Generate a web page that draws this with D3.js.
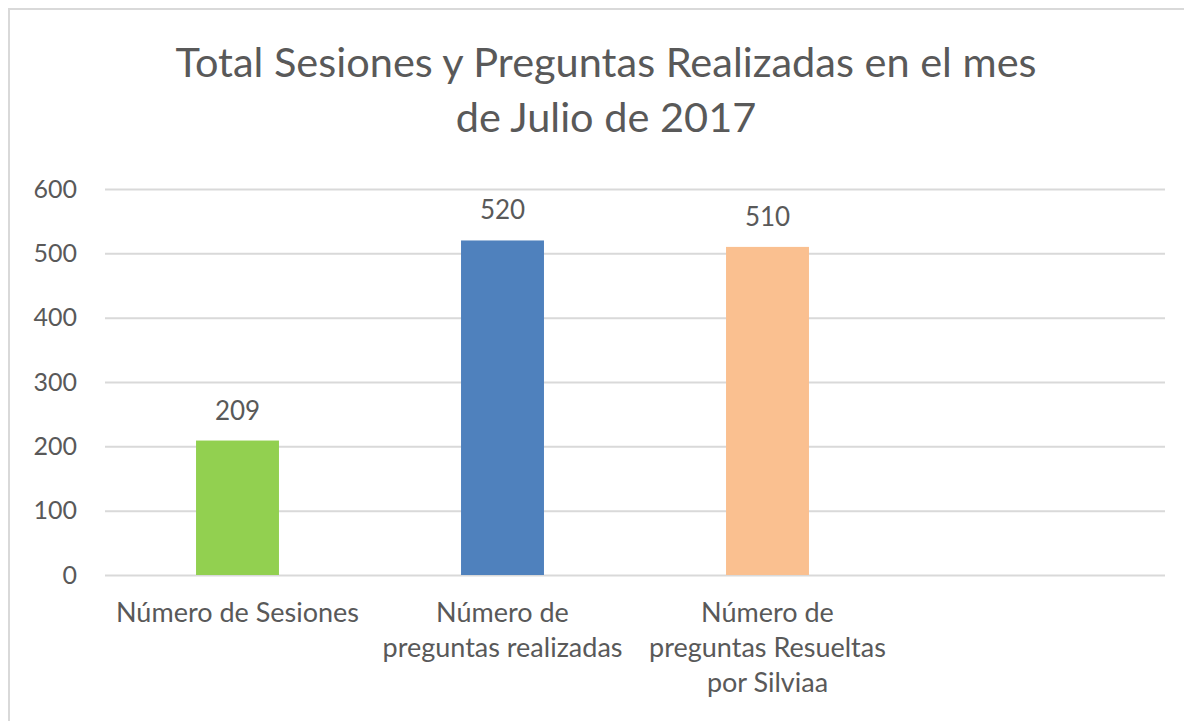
<!DOCTYPE html>
<html>
<head>
<meta charset="utf-8">
<script src="https://cdn.jsdelivr.net/npm/d3@7"></script>
<style>
	body { margin: 0; background: #fff; }
	text { font-family: Lato, "Open Sans", sans-serif; fill: #595959; }
</style>
</head>
<body>
<script>
const titleLines = ["Total Sesiones y Preguntas Realizadas en el mes", "de Julio de 2017"];
const categories = ["Número de Sesiones", "Número de\npreguntas realizadas", "Número de\npreguntas Resueltas\npor Silviaa", ""];
const values = [209, 520, 510, null];
const colors = ["#92d050", "#4f81bd", "#fac090", "#fff"];
const yTicks = [0, 100, 200, 300, 400, 500, 600];

const W = 1184, H = 721;
const margin = { top: 189, right: 19, bottom: 146, left: 105 };
const width = W - margin.left - margin.right;
const height = H - margin.top - margin.bottom;

const root = d3.select("body").append("svg")
	.attr("width", W)
	.attr("height", H);

// marco del gráfico
root.append("rect")
	.attr("x", 9)
	.attr("y", 9)
	.attr("width", W + 20)
	.attr("height", H + 20)
	.attr("fill", "none")
	.attr("stroke", "#d9d9d9")
	.attr("stroke-width", 2);

root.selectAll(".title")
	.data(titleLines)
	.join("text")
	.attr("class", "title")
	.attr("x", 606)
	.attr("y", (d, i) => 77 + i * 55)
	.attr("text-anchor", "middle")
	.attr("font-size", "41.5px")
	.text(d => d);

const svg = root.append("g")
	.attr("transform", `translate(${margin.left},${margin.top})`);

const x = d3.scaleBand()
	.domain(d3.range(categories.length))
	.range([0, width])
	.padding(0);

const y = d3.scaleLinear()
	.domain([0, 600])
	.range([height, 0]);

// líneas de cuadrícula
svg.append("g")
	.call(d3.axisLeft(y).tickValues(yTicks).tickSize(-width).tickFormat(""))
	.call(g => g.select(".domain").remove())
	.selectAll("line")
	.attr("stroke", "#d9d9d9")
	.attr("stroke-width", 2);

svg.append("g")
	.call(d3.axisLeft(y).tickValues(yTicks).tickSize(0).tickPadding(28))
	.call(g => g.select(".domain").remove())
	.selectAll("text")
	.attr("font-size", "25px")
	.attr("font-family", "Lato, sans-serif")
	.attr("fill", "#595959");

const barW = x.bandwidth() * 0.313;
const bars = values.map((v, i) => ({ i, v })).filter(d => d.v != null);

svg.selectAll(".bar")
	.data(bars)
	.join("rect")
	.attr("class", "bar")
	.attr("x", d => x(d.i) + (x.bandwidth() - barW) / 2)
	.attr("y", d => y(d.v))
	.attr("width", barW)
	.attr("height", d => height - y(d.v))
	.attr("fill", d => colors[d.i]);

svg.selectAll(".label")
	.data(bars)
	.join("text")
	.attr("class", "label")
	.attr("x", d => x(d.i) + x.bandwidth() / 2)
	.attr("y", d => y(d.v) - 21)
	.attr("text-anchor", "middle")
	.attr("font-size", "26px")
	.text(d => d.v);

const catG = svg.selectAll(".cat")
	.data(categories)
	.join("text")
	.attr("class", "cat")
	.attr("x", (d, i) => x(i) + x.bandwidth() / 2)
	.attr("y", height + 47)
	.attr("text-anchor", "middle")
	.attr("font-size", "27px");

catG.selectAll("tspan")
	.data(d => d.split("\n"))
	.join("tspan")
	.attr("x", function () { return this.parentNode.getAttribute("x"); })
	.attr("dy", (d, i) => i === 0 ? 0 : 35)
	.text(d => d);
</script>
</body>
</html>
